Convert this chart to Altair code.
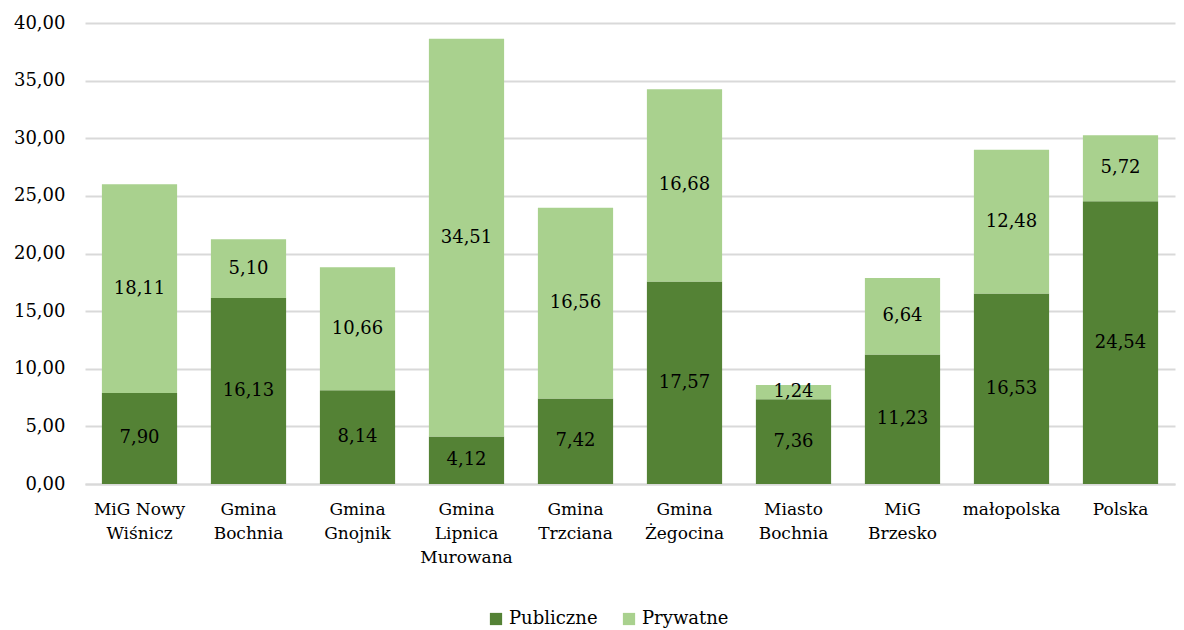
import altair as alt
import pandas as pd

categories = ["MiG Nowy\nWiśnicz", "Gmina\nBochnia", "Gmina\nGnojnik", "Gmina\nLipnica\nMurowana",
              "Gmina\nTrzciana", "Gmina\nŻegocina", "Miasto\nBochnia", "MiG\nBrzesko",
              "małopolska", "Polska"]
publiczne = [7.90, 16.13, 8.14, 4.12, 7.42, 17.57, 7.36, 11.23, 16.53, 24.54]
prywatne = [18.11, 5.10, 10.66, 34.51, 16.56, 16.68, 1.24, 6.64, 12.48, 5.72]
series = ["Publiczne", "Prywatne"]
colors = ["#548235", "#A9D18E"]

rows = []
for i, c in enumerate(categories):
    rows.append({"cat": c, "series": "Publiczne", "value": publiczne[i], "ord": 0})
    rows.append({"cat": c, "series": "Prywatne", "value": prywatne[i], "ord": 1})
df = pd.DataFrame(rows)

FONT = "DejaVu Serif"
FS = 18

base = alt.Chart(df).transform_stack(
    stack="value", groupby=["cat"], as_=["y0", "y1"], sort=[alt.SortField("ord")]
).transform_calculate(
    mid="(datum.y0 + datum.y1) / 2",
    lbl="replace(format(datum.value, '.2f'), '.', ',')"
)

xenc = alt.X("cat:N", sort=categories, title=None,
             scale=alt.Scale(paddingInner=0.31, paddingOuter=0.155),
             axis=alt.Axis(labelExpr="split(datum.label, '\\n')", labelAngle=0,
                           labelFont=FONT, labelFontSize=17, labelColor="#000000",
                           labelLineHeight=24, labelPadding=17, ticks=False,
                           domainColor="#D9D9D9", domainWidth=2, labelBaseline="top"))

bars = base.mark_bar().encode(
    x=xenc,
    y=alt.Y("y0:Q", title=None,
            scale=alt.Scale(domain=[0, 40], nice=False),
            axis=alt.Axis(values=[0, 5, 10, 15, 20, 25, 30, 35, 40],
                          labelExpr="replace(format(datum.value, '.2f'), '.', ',')",
                          labelFont=FONT, labelFontSize=FS, labelColor="#000000",
                          labelPadding=20, ticks=False, domain=False,
                          gridColor="#D9D9D9", gridWidth=2)),
    y2="y1:Q",
    color=alt.Color("series:N", scale=alt.Scale(domain=series, range=colors),
                    sort=series,
                    legend=alt.Legend(orient="none", direction="horizontal",
                                      legendX=402, legendY=587,
                                      title=None, symbolType="square",
                                      symbolSize=150, symbolStrokeWidth=0,
                                      labelFont=FONT, labelFontSize=FS, labelColor="#000000",
                                      columnPadding=22)),
)

texts = base.mark_text(font=FONT, fontSize=FS, color="#000000", baseline="middle").encode(
    x=alt.X("cat:N", sort=categories),
    y=alt.Y("mid:Q"),
    text="lbl:N",
)

chart = alt.layer(bars, texts).properties(
    width=1090, height=461,
    padding={"left": 5, "top": 6, "right": 1, "bottom": 0}
).configure_view(stroke=None)

chart.save("out.html", embed_options={"renderer": "svg", "actions": False})
